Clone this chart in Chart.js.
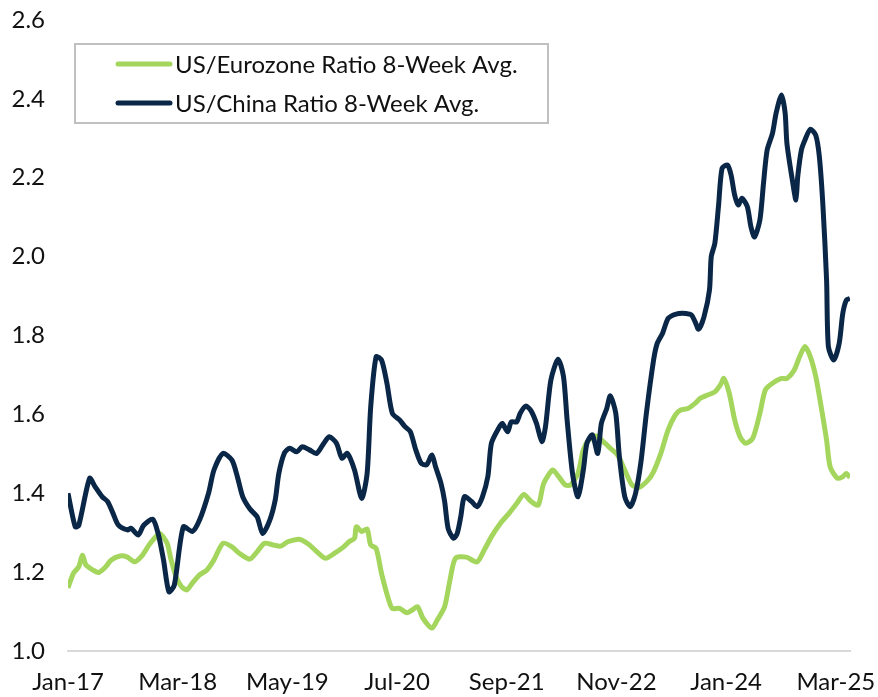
<!DOCTYPE html>
<html>
<head>
<meta charset="UTF-8">
<title>US ratios 8-week avg</title>
<style>
  body { margin: 0; background: #fff; }
</style>
</head>
<body>
<canvas id="ratioChart" width="878" height="697"></canvas>

<script src="https://cdn.jsdelivr.net/npm/chart.js"></script>
<script>
// x axis labels, one every 14 months starting Jan-17
const tickLabels = ['Jan-17', 'Mar-18', 'May-19', 'Jul-20', 'Sep-21', 'Nov-22', 'Jan-24', 'Mar-25'];

// US/Eurozone ratio, 8-week avg (x = weeks since Jan-2017)
const euroWeeks = [0, 3, 6, 8, 10, 14, 17, 21, 24, 29, 33, 37, 41, 45, 48, 51, 55, 57, 60, 63, 66, 69, 73, 77, 81, 86, 91, 95,
  101, 105, 109, 114, 118, 122, 127, 130, 134, 139, 143, 148, 153, 156, 159, 160, 163, 166, 168, 171, 174, 178, 180, 184, 188,
  191, 194, 197, 202, 205, 209, 212, 215, 221, 227, 231, 235, 240, 244, 249, 253, 257, 261, 264, 269, 272, 276, 279, 283, 286,
  289, 293, 298, 301, 305, 309, 313, 317, 322, 325, 329, 333, 337, 340, 344, 348, 351, 355, 359, 362, 364, 367, 370, 373, 376,
  380, 384, 387, 391, 396, 399, 403, 406, 409, 412, 415, 418, 421, 423, 427, 430, 432, 434];
const euroValues = [1.16, 1.197, 1.214, 1.243, 1.218, 1.205, 1.199, 1.214, 1.231, 1.241, 1.238, 1.226, 1.241, 1.269, 1.286, 1.298, 1.273, 1.235, 1.188, 1.163, 1.155, 1.172, 1.193, 1.205, 1.231, 1.273, 1.264, 1.248,
  1.233, 1.252, 1.273, 1.269, 1.266, 1.277, 1.283, 1.281, 1.269, 1.248, 1.235, 1.248, 1.264, 1.277, 1.286, 1.315, 1.303, 1.309, 1.269, 1.26, 1.197, 1.129, 1.108, 1.108, 1.097,
  1.104, 1.112, 1.083, 1.058, 1.079, 1.112, 1.18, 1.235, 1.238, 1.226, 1.256, 1.29, 1.324, 1.345, 1.374, 1.397, 1.379, 1.37, 1.425, 1.459, 1.444, 1.421, 1.421, 1.45, 1.51,
  1.535, 1.545, 1.527, 1.514, 1.497, 1.459, 1.421, 1.415, 1.434, 1.455, 1.501, 1.56, 1.598, 1.611, 1.615, 1.628, 1.641, 1.649, 1.657, 1.674, 1.691, 1.653, 1.586, 1.543, 1.527,
  1.539, 1.603, 1.662, 1.679, 1.691, 1.691, 1.712, 1.746, 1.772, 1.746, 1.696, 1.619, 1.535, 1.467, 1.438, 1.442, 1.45, 1.44];

// US/China ratio, 8-week avg
const chinaWeeks = [0, 4, 6, 12, 15, 19, 22, 25, 28, 33, 35, 39, 42, 47, 50, 53, 56, 59, 64, 69, 73, 78, 81, 86, 91, 94, 97, 101,
  105, 108, 112, 115, 117, 120, 123, 127, 130, 134, 138, 142, 145, 149, 152, 155, 159, 163, 166, 168, 171, 174, 177, 180, 184,
  187, 190, 193, 196, 199, 202, 204, 207, 209, 211, 214, 216, 218, 220, 224, 227, 230, 233, 235, 239, 241, 244, 246, 249, 251,
  254, 257, 260, 263, 265, 268, 272, 275, 277, 280, 283, 286, 288, 291, 294, 296, 299, 301, 304, 306, 309, 312, 315, 318, 321,
  325, 327, 330, 333, 336, 339, 343, 346, 348, 350, 353, 356, 357, 359, 361, 363, 366, 368, 370, 372, 374, 377, 379, 381, 384,
  386, 388, 391, 393, 396, 398, 399, 402, 404, 405, 407, 409, 412, 415, 417, 419, 421, 422, 425, 428, 430, 432, 434];
const chinaValues = [1.4, 1.315, 1.319, 1.438, 1.417, 1.391, 1.379, 1.349, 1.319, 1.307, 1.311, 1.294, 1.319, 1.334, 1.298, 1.231, 1.15, 1.167, 1.315, 1.303, 1.332, 1.4, 1.459, 1.501, 1.484, 1.442, 1.391, 1.36,
  1.34, 1.298, 1.332, 1.383, 1.45, 1.501, 1.514, 1.505, 1.518, 1.51, 1.501, 1.527, 1.543, 1.527, 1.489, 1.501, 1.459, 1.387, 1.45, 1.619, 1.746, 1.738, 1.679, 1.603, 1.586,
  1.569, 1.556, 1.51, 1.476, 1.472, 1.497, 1.467, 1.425, 1.38, 1.31, 1.286, 1.298, 1.341, 1.391, 1.379, 1.366, 1.391, 1.442, 1.527, 1.565, 1.577, 1.556, 1.581, 1.581, 1.603,
  1.621, 1.609, 1.577, 1.531, 1.569, 1.687, 1.74, 1.696, 1.586, 1.45, 1.391, 1.459, 1.527, 1.548, 1.501, 1.577, 1.615, 1.647, 1.603, 1.493, 1.391, 1.366, 1.4, 1.48, 1.603,
  1.738, 1.78, 1.806, 1.843, 1.852, 1.856, 1.856, 1.852, 1.835, 1.816, 1.848, 1.915, 2.0, 2.034, 2.127, 2.224, 2.232, 2.207, 2.156, 2.131, 2.148, 2.127, 2.076, 2.05, 2.093,
  2.186, 2.27, 2.313, 2.364, 2.41, 2.364, 2.287, 2.194, 2.144, 2.203, 2.27, 2.296, 2.323, 2.308, 2.253, 2.127, 1.941, 1.772, 1.738, 1.78, 1.856, 1.89, 1.894];

const seriesNames = ['US/Eurozone Ratio 8-Week Avg.', 'US/China Ratio 8-Week Avg.'];
const seriesColors = ['#a4d65e', '#0b2747'];

const WEEKS_PER_MONTH = 365.25 / 7 / 12;
const fontFamily = 'Lato, "Open Sans", sans-serif';

function toPoints(xs, ys) {
  return xs.map((x, i) => ({ x: x, y: ys[i] }));
}

// drop the extra room chart.js keeps for edge tick labels
function noEdgePadding(scale) {
  scale.paddingTop = 0;
  scale.paddingBottom = 0;
  scale.paddingLeft = 0;
  scale.paddingRight = 0;
}

// legend box drawn inside the plot, top left
const boxLegend = {
  id: 'boxLegend',
  afterDraw(chart) {
    const ctx = chart.ctx;
    ctx.save();
    ctx.strokeStyle = '#c0c0c0';
    ctx.lineWidth = 2;
    ctx.strokeRect(75, 44, 473, 79);
    ctx.font = '24px ' + fontFamily;
    ctx.textBaseline = 'middle';
    ctx.fillStyle = '#111';
    const rows = [64, 103];
    seriesNames.forEach((name, i) => {
      ctx.strokeStyle = seriesColors[i];
      ctx.lineWidth = 5;
      ctx.lineCap = 'round';
      ctx.beginPath();
      ctx.moveTo(118, rows[i]);
      ctx.lineTo(170, rows[i]);
      ctx.stroke();
      ctx.fillText(name, 175, rows[i] + 1);
    });
    ctx.restore();
  }
};

const ctx = document.getElementById('ratioChart').getContext('2d');
new Chart(ctx, {
  type: 'line',
  data: {
    datasets: [
      {
        label: seriesNames[0],
        data: toPoints(euroWeeks, euroValues),
        borderColor: seriesColors[0],
        borderWidth: 5,
        pointRadius: 0,
        tension: 0.25,
        order: 1
      },
      {
        label: seriesNames[1],
        data: toPoints(chinaWeeks, chinaValues),
        borderColor: seriesColors[1],
        borderWidth: 5,
        pointRadius: 0,
        tension: 0.25,
        order: 0
      }
    ]
  },
  options: {
    responsive: false,
    animation: false,
    layout: { padding: { top: 20, right: 28, left: 0, bottom: 0 } },
    plugins: {
      legend: { display: false },
      tooltip: { enabled: false }
    },
    scales: {
      x: {
        type: 'linear',
        min: 0,
        max: 434,
        grid: { display: false, drawTicks: false, tickLength: 0 },
        border: { display: true, color: '#d9d9d9', width: 2 },
        afterBuildTicks: (scale) => {
          scale.ticks = tickLabels.map((_, i) => ({ value: i * 14 * WEEKS_PER_MONTH }));
        },
        afterFit: (scale) => { scale.height = 46; noEdgePadding(scale); },
        ticks: {
          autoSkip: false,
          maxRotation: 0,
          padding: 17,
          color: '#111',
          font: { family: fontFamily, size: 24 },
          callback: (value, index) => tickLabels[index]
        }
      },
      y: {
        min: 1.0,
        max: 2.6,
        grid: { display: false, drawTicks: false, tickLength: 0 },
        border: { display: false },
        afterFit: (scale) => { scale.width = 68; noEdgePadding(scale); },
        ticks: {
          stepSize: 0.2,
          padding: 23,
          color: '#111',
          font: { family: fontFamily, size: 24 },
          callback: (value) => value.toFixed(1)
        }
      }
    }
  },
  plugins: [boxLegend]
});
</script>
</body>
</html>
